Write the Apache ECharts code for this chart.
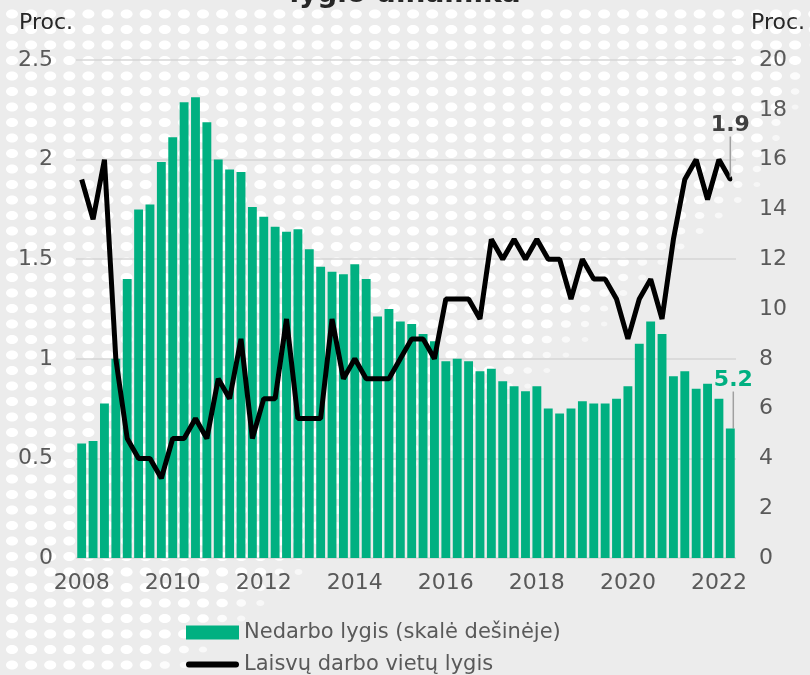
<!DOCTYPE html>
<html>
<head>
<meta charset="utf-8">
<script src="https://cdn.jsdelivr.net/npm/echarts@6/dist/echarts.min.js"></script>
<style>
  html, body { margin: 0; padding: 0; background: #ececec; }
  #chart { width: 810px; height: 675px; }
</style>
</head>
<body>
<div id="chart"></div>
<script>
// ketvirčiai 2008 K1 - 2022 K2
var years = [2008, 2009, 2010, 2011, 2012, 2013, 2014, 2015, 2016, 2017, 2018, 2019, 2020, 2021, 2022];
var quarters = ['K1', 'K2', 'K3', 'K4'];
var categories = [];
years.forEach(function (y) {
  quarters.forEach(function (q) { categories.push(y + ' ' + q); });
});
categories = categories.slice(0, 58);

// Nedarbo lygis, proc. (dešinė ašis)
var nedarboLygis = [
  4.6, 4.7, 6.2, 8.0, 11.2, 14.0, 14.2, 15.9,
  16.9, 18.3, 18.5, 17.5, 16.0, 15.6, 15.5, 14.1,
  13.7, 13.3, 13.1, 13.2, 12.4, 11.7, 11.5, 11.4,
  11.8, 11.2, 9.7, 10.0, 9.5, 9.4, 9.0, 8.7,
  7.9, 8.0, 7.9, 7.5, 7.6, 7.1, 6.9, 6.7,
  6.9, 6.0, 5.8, 6.0, 6.3, 6.2, 6.2, 6.4,
  6.9, 8.6, 9.5, 9.0, 7.3, 7.5, 6.8, 7.0,
  6.4, 5.2
];

// Laisvų darbo vietų lygis, proc. (kairė ašis)
var laisvuVietuLygis = [
  1.9, 1.7, 2.0, 1.0, 0.6, 0.5, 0.5, 0.4,
  0.6, 0.6, 0.7, 0.6, 0.9, 0.8, 1.1, 0.6,
  0.8, 0.8, 1.2, 0.7, 0.7, 0.7, 1.2, 0.9,
  1.0, 0.9, 0.9, 0.9, 1.0, 1.1, 1.1, 1.0,
  1.3, 1.3, 1.3, 1.2, 1.6, 1.5, 1.6, 1.5,
  1.6, 1.5, 1.5, 1.3, 1.5, 1.4, 1.4, 1.3,
  1.1, 1.3, 1.4, 1.2, 1.6, 1.9, 2.0, 1.8,
  2.0, 1.9
];

var FONT = "'DejaVu Sans', Verdana, sans-serif";
var GREEN = '#00b081';
var TXT = '#595959';

// fono taškų raštas (dekoracija)
function dotPattern() {
  var els = [];
  for (var j = 0; j < 44; j++) {
    var y = 14 + 15.5 * j;
    for (var i = 0; i < 43; i++) {
      var x = 12 + 19.1 * i;
      var edge = x > 750 ? 200 - (x - 750) * 2 : 200 + (750 - x) * 0.85;
      var d = edge - y;
      if (d <= 0) continue;
      var k = Math.min(1, d / 50);
      els.push({
        type: 'ellipse', silent: true, z: -10,
        shape: { cx: x, cy: y, rx: 6 * (0.55 + 0.45 * k), ry: 4.5 * (0.55 + 0.45 * k) },
        style: { fill: '#ffffff', opacity: 0.5 + 0.5 * k }
      });
    }
  }
  return els;
}

var last = nedarboLygis.length - 1;
var barData = nedarboLygis.map(function (v, i) {
  if (i !== last) return v;
  return {
    value: v,
    label: {
      show: true, position: 'top', formatter: '{c}',
      color: GREEN, fontWeight: 'bold', fontSize: 22, fontFamily: FONT
    }
  };
});
var lineData = laisvuVietuLygis.map(function (v, i) {
  if (i !== last) return v;
  return {
    value: v,
    symbol: 'circle',
    symbolSize: 4,
    label: {
      show: true, position: 'top', formatter: '{c}',
      color: '#404040', fontWeight: 'bold', fontSize: 22, fontFamily: FONT
    }
  };
});

var chart = echarts.init(document.getElementById('chart'));
chart.setOption({
  backgroundColor: '#ececec',
  animation: false,
  graphic: { elements: dotPattern() },
  title: {
    text: 'lygio dinamika',
    left: 'center',
    top: -24,
    textStyle: { fontFamily: FONT, fontWeight: 'bold', fontSize: 28, color: '#262626' }
  },
  grid: { left: 76, right: 74, top: 60, bottom: 117 },
  legend: {
    orient: 'vertical',
    left: 186,
    top: 622,
    padding: 0,
    itemWidth: 53,
    itemHeight: 14,
    itemGap: 11,
    textStyle: { fontFamily: FONT, fontSize: 21, color: TXT },
    data: [
      { name: 'Nedarbo lygis (skalė dešinėje)', icon: 'rect' },
      { name: 'Laisvų darbo vietų lygis', icon: 'path://M3,0 L51,0 A3,3 0 0 1 51,6 L3,6 A3,3 0 0 1 3,0 Z' }
    ]
  },
  xAxis: {
    type: 'category',
    data: categories,
    axisLine: { show: false },
    axisTick: { show: false },
    axisLabel: {
      interval: 7,
      margin: 14,
      fontFamily: FONT, fontSize: 22, color: TXT,
      formatter: function (v) { return v.slice(0, 4); }
    }
  },
  yAxis: [
    {
      type: 'value', min: 0, max: 2.5, interval: 0.5,
      name: 'Proc.', nameLocation: 'end', nameGap: 26,
      nameTextStyle: { fontFamily: FONT, fontSize: 22, color: '#262626', align: 'center', padding: [0, 60, 0, 0] },
      axisLine: { show: false }, axisTick: { show: false },
      axisLabel: { margin: 23, fontFamily: FONT, fontSize: 22, color: TXT },
      splitLine: { lineStyle: { color: '#d6d6d6', width: 1.5 } }
    },
    {
      type: 'value', min: 0, max: 20, interval: 2,
      name: 'Proc.', nameLocation: 'end', nameGap: 26,
      nameTextStyle: { fontFamily: FONT, fontSize: 22, color: '#262626', align: 'center', padding: [0, 0, 0, 84] },
      axisLine: { show: false }, axisTick: { show: false },
      axisLabel: { margin: 23, fontFamily: FONT, fontSize: 22, color: TXT },
      splitLine: { show: false }
    }
  ],
  series: [
    {
      name: 'Nedarbo lygis (skalė dešinėje)',
      type: 'bar',
      yAxisIndex: 1,
      data: barData,
      barCategoryGap: '22%',
      itemStyle: { color: GREEN },
      labelLayout: { dy: -32, dx: 3 },
      labelLine: { show: true, lineStyle: { color: '#a0a0a0', width: 1.5 } }
    },
    {
      name: 'Laisvų darbo vietų lygis',
      type: 'line',
      yAxisIndex: 0,
      data: lineData,
      symbol: 'none',
      itemStyle: { color: '#000' },
      lineStyle: { color: '#000', width: 5 },
      labelLayout: { dy: -36 },
      labelLine: { show: true, lineStyle: { color: '#a0a0a0', width: 1.5 } },
      z: 3
    }
  ]
});
</script>
</body>
</html>
